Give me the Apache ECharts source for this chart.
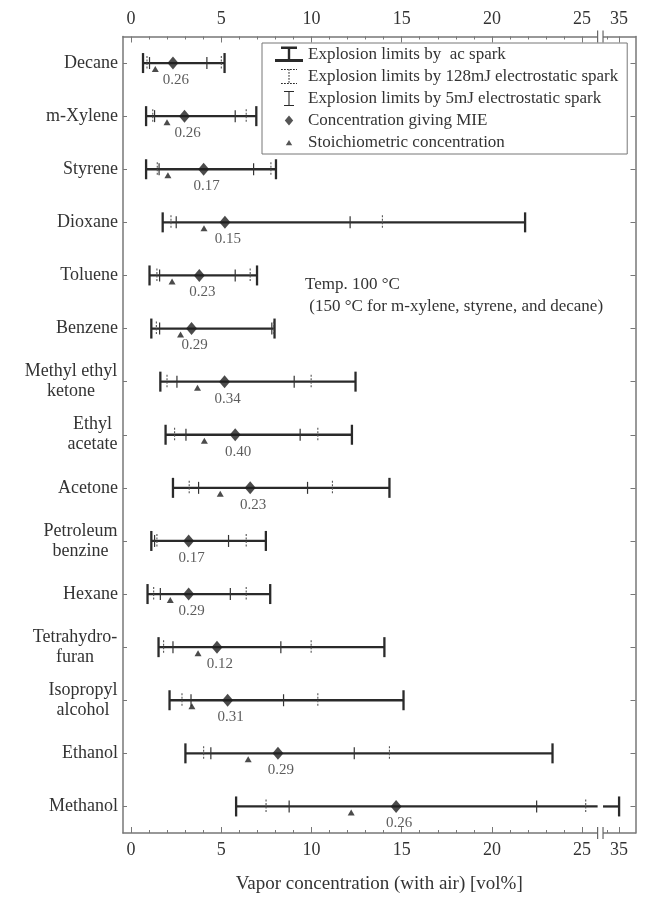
<!DOCTYPE html>
<html><head><meta charset="utf-8">
<script src="https://cdn.jsdelivr.net/npm/echarts@6/dist/echarts.min.js"></script>
<style>html,body{margin:0;padding:0;background:#fff}#c{width:649px;height:899px}</style>
</head><body><div id="c"></div>
<script>
// ---- data (vol%) ----
const substances = ['Decane','m-Xylene','Styrene','Dioxane','Toluene','Benzene','Methyl ethyl\nketone','Ethyl\nacetate','Acetone','Petroleum\nbenzine','Hexane','Tetrahydro-\nfuran','Isopropyl\nalcohol','Ethanol','Methanol'];
const acLower    = [0.66,0.83,0.83,1.75,1.02,1.12,1.62,1.91,2.32,1.12,0.91,1.52,2.13,3.01,5.82];
const acUpper    = [5.18,6.94,8.03,21.84,6.98,7.95,12.44,12.24,14.32,7.47,7.71,14.04,15.10,23.36,35.0];
const es128Lower = [0.88,1.20,1.45,2.21,1.43,1.40,1.99,2.41,3.22,1.43,1.25,1.80,2.82,4.02,7.48];
const es128Upper = [5.00,6.38,7.75,13.93,6.60,7.90,9.98,10.35,11.16,6.38,6.38,9.98,10.35,14.32,25.20];
const es5Lower   = [1.02,1.30,1.55,2.50,1.58,1.58,2.54,3.04,3.74,1.30,1.62,2.32,3.32,4.42,8.76];
const es5Upper   = [4.20,5.77,6.79,12.14,5.77,7.80,9.04,9.37,9.78,5.40,5.50,8.30,8.45,12.37,22.48];
const mieConc    = [2.32,2.96,4.02,5.20,3.78,3.35,5.18,5.77,6.60,3.19,3.19,4.76,5.35,8.14,14.69];
const mieValue   = [0.26,0.26,0.17,0.15,0.23,0.29,0.34,0.40,0.23,0.17,0.29,0.12,0.31,0.29,0.26];
const stoichConc = [1.34,1.99,2.04,4.04,2.27,2.74,3.68,4.06,4.94,null,2.17,3.71,3.37,6.49,12.20];
const majorTickValues = [0,5,10,15,20,25,35];
const minorTickValues = [1,2,3,4,6,7,8,9,11,12,13,14,16,17,18,19,21,22,23,24,34];
const legendNames = ['Explosion limits by  ac spark','Explosion limits by 128mJ electrostatic spark','Explosion limits by 5mJ electrostatic spark','Concentration giving MIE','Stoichiometric concentration'];
const noteLines = ['Temp. 100 \u00b0C',' (150 \u00b0C for m-xylene, styrene, and decane)'];
const xTitle = 'Vapor concentration (with air) [vol%]';

// ---- broken axis: real value -> display value ----
const BREAK_A = 25.86, BREAK_B = 26.16;
function disp(v){ return v <= 30 ? v : 27.05 + (v - 35) * 0.65; }
function real(d){ return d <= BREAK_B ? Math.round(d) : Math.round(35 + (d - 27.05) / 0.65); }

const FONT = '"Liberation Serif", "Times New Roman", serif';
const INK = '#333';
const FRAME = '#777';

// centered multi-line category labels
const meas = document.createElement('canvas').getContext('2d');
const catFont = 18;
meas.font = catFont + 'px "Liberation Serif"';
const rich = {};
substances.forEach((s, i) => {
  if (s.indexOf('\n') >= 0) {
    const w = Math.max(...s.split('\n').map(l => meas.measureText(l).width));
    rich['c' + i] = {width: Math.ceil(w) + 1, align: 'center', fontSize: catFont, fontFamily: FONT, color: INK, lineHeight: 20};
  }
});

const chart = echarts.init(document.getElementById('c'), null, {renderer: 'canvas'});

function vTick(x, y, h){ return {type:'line', shape:{x1:x, y1:y-h, x2:x, y2:y+h}}; }

const nullDot = 'M0,0L0.01,0L0,0.01Z M28,16L27.99,16L28,15.99Z ';
function dashedRect(x1, y1, x2, y2){
  let p = '';
  if (x2 - x1 > y2 - y1) { for (let x = x1; x < x2; x += 3) p += `M${x},${y1}H${Math.min(x+1.8,x2)}V${y2}H${x}Z `; }
  else { for (let y = y1; y < y2; y += 3) p += `M${x1},${y}V${Math.min(y+1.8,y2)}H${x2}V${y}Z `; }
  return p;
}
const icons = [
  'path://' + nullDot + 'M6,0H22V2.4H6Z M12.8,0H15.2V14H12.8Z M0,12.6H28V15.4H0Z',
  'path://' + nullDot + dashedRect(6,0.5,22,1.5) + dashedRect(13.5,0.5,14.5,15.5) + dashedRect(6,14.5,22,15.5),
  'path://' + nullDot + 'M9,0.5H19V1.6H9Z M13.45,0.5H14.55V15.5H13.45Z M9,14.4H19V15.5H9Z',
  'path://' + nullDot + 'M14,3L18.2,8L14,13L9.8,8Z',
  'path://' + nullDot + 'M14,5.5L17.2,10.8L10.8,10.8Z'
];

const baseX = {type:'value', gridIndex:0, min:-0.45, max:27.96, splitLine:{show:false}, axisPointer:{show:false}};
const option = {
  backgroundColor:'#fff',
  animation:false,
  grid:{left:123, right:13.5, top:36.5, bottom:62, containLabel:false},
  xAxis:[
    Object.assign({}, baseX, {position:'bottom',
      axisLine:{show:true, onZero:false, lineStyle:{color:FRAME, width:1.5}},
      axisTick:{show:true, inside:true, length:6, lineStyle:{color:FRAME, width:1}, customValues: majorTickValues.map(disp)},
      axisLabel:{show:true, margin:8, fontFamily:FONT, fontSize:18, color:INK, customValues: majorTickValues.map(disp), formatter:v => String(real(v))},
      name:xTitle, nameLocation:'middle', nameGap:42, nameTextStyle:{fontFamily:FONT, fontSize:19, color:INK}}),
    Object.assign({}, baseX, {position:'bottom', axisLine:{show:false, onZero:false},
      axisTick:{show:true, inside:true, length:3, lineStyle:{color:FRAME, width:1}, customValues: minorTickValues.map(disp)},
      axisLabel:{show:false}}),
    Object.assign({}, baseX, {position:'top',
      axisLine:{show:true, onZero:false, lineStyle:{color:FRAME, width:1.5}},
      axisTick:{show:true, inside:true, length:6, lineStyle:{color:FRAME, width:1}, customValues: majorTickValues.map(disp)},
      axisLabel:{show:true, margin:8, fontFamily:FONT, fontSize:18, color:INK, customValues: majorTickValues.map(disp), formatter:v => String(real(v))}}),
    Object.assign({}, baseX, {position:'top', axisLine:{show:false, onZero:false},
      axisTick:{show:true, inside:true, length:3, lineStyle:{color:FRAME, width:1}, customValues: minorTickValues.map(disp)},
      axisLabel:{show:false}})
  ],
  yAxis:[
    {type:'category', data:substances, inverse:true, position:'left', boundaryGap:true,
      axisLine:{show:true, onZero:false, lineStyle:{color:FRAME, width:1.5}},
      axisTick:{show:true, inside:true, alignWithLabel:true, length:4, lineStyle:{color:FRAME, width:1}},
      axisLabel:{margin:5, fontFamily:FONT, fontSize:catFont, color:INK, lineHeight:20, rich:rich,
        formatter:(v, i) => v.indexOf('\n') >= 0 ? v.split('\n').map(l => '{c' + i + '|' + l + '}').join('\n') : v},
      splitLine:{show:false}},
    {type:'category', data:substances, inverse:true, position:'right', boundaryGap:true,
      axisLine:{show:true, onZero:false, lineStyle:{color:FRAME, width:1.5}},
      axisTick:{show:true, inside:true, alignWithLabel:true, length:5, lineStyle:{color:FRAME, width:1}},
      axisLabel:{show:false}, splitLine:{show:false}}
  ],
  legend:{
    orient:'vertical', left:262, top:43, padding:[3,9,3,13], itemGap:5, itemWidth:28, itemHeight:16,
    borderColor:'#777', borderWidth:1, backgroundColor:'#fff', selectedMode:false,
    textStyle:{fontFamily:FONT, fontSize:17, color:INK, lineHeight:17},
    data: legendNames.map((n, i) => ({name:n, icon:icons[i], itemStyle:{color:'#2a2a2a', borderWidth:0}}))
  },
  graphic:[
    {type:'text', left:305, top:274, silent:true,
      style:{text:noteLines.join('\n'), font:'17px ' + FONT, fill:INK, lineHeight:22}}
  ],
  series:[
    {
      type:'custom', name:legendNames[0], xAxisIndex:0, yAxisIndex:0, itemStyle:{color:'#2a2a2a'},
      data: substances.map((s, i) => [i, disp(acLower[i]), disp(acUpper[i])]),
      encode:{x:[1,2], y:0},
      renderItem(params, api){
        const yi = api.value(0), lo = api.value(1), hi = api.value(2);
        const p1 = api.coord([lo, yi]), p2 = api.coord([hi, yi]);
        const st = {stroke:'#2a2a2a', lineWidth:2.3};
        const kids = [];
        if (hi > BREAK_B) {
          const a = api.coord([BREAK_A, yi]), b = api.coord([BREAK_B, yi]);
          kids.push({type:'line', shape:{x1:p1[0], y1:p1[1], x2:a[0], y2:a[1]}, style:st});
          kids.push({type:'line', shape:{x1:b[0], y1:b[1], x2:p2[0], y2:p2[1]}, style:st});
        } else {
          kids.push({type:'line', shape:{x1:p1[0], y1:p1[1], x2:p2[0], y2:p2[1]}, style:st});
        }
        kids.push(Object.assign(vTick(p1[0], p1[1], 10), {style:st}));
        kids.push(Object.assign(vTick(p2[0], p2[1], 10), {style:st}));
        return {type:'group', children:kids};
      }
    },
    {
      type:'custom', name:legendNames[1], xAxisIndex:0, yAxisIndex:0, itemStyle:{color:'#2a2a2a'},
      data: substances.map((s, i) => [i, disp(es128Lower[i]), disp(es128Upper[i])]),
      encode:{x:[1,2], y:0},
      renderItem(params, api){
        const yi = api.value(0);
        const p1 = api.coord([api.value(1), yi]), p2 = api.coord([api.value(2), yi]);
        const st = {stroke:'#555', lineWidth:1.1, lineDash:[2,1.5]};
        return {type:'group', children:[
          Object.assign(vTick(p1[0], p1[1], 7), {style:st}),
          Object.assign(vTick(p2[0], p2[1], 7), {style:st})]};
      }
    },
    {
      type:'custom', name:legendNames[2], xAxisIndex:0, yAxisIndex:0, itemStyle:{color:'#2a2a2a'},
      data: substances.map((s, i) => [i, disp(es5Lower[i]), disp(es5Upper[i])]),
      encode:{x:[1,2], y:0},
      renderItem(params, api){
        const yi = api.value(0);
        const p1 = api.coord([api.value(1), yi]), p2 = api.coord([api.value(2), yi]);
        const st = {stroke:'#333', lineWidth:1.2};
        return {type:'group', children:[
          Object.assign(vTick(p1[0], p1[1], 6), {style:st}),
          Object.assign(vTick(p2[0], p2[1], 6), {style:st})]};
      }
    },
    {
      type:'scatter', name:legendNames[3], xAxisIndex:0, yAxisIndex:0, z:5,
      symbol:'diamond', symbolSize:[11,13], itemStyle:{color:'#1e1e1e'},
      data: mieConc.map((v, i) => [disp(v), i]),
      label:{show:true, position:'bottom', distance:3, offset:[3,0], fontFamily:FONT, fontSize:15, color:INK,
        formatter:p => mieValue[p.dataIndex].toFixed(2)}
    },
    {
      type:'scatter', name:legendNames[4], xAxisIndex:0, yAxisIndex:0, z:4,
      symbol:'triangle', symbolSize:[7,6], symbolOffset:[0,6], itemStyle:{color:'#1e1e1e'},
      data: stoichConc.map((v, i) => v == null ? null : [disp(v), i]).filter(d => d)
    },
    {
      type:'custom', name:'break', xAxisIndex:0, yAxisIndex:0, silent:true, z:6,
      data:[[BREAK_A, BREAK_B]], encode:{x:[0,1]},
      renderItem(params, api){
        const cs = params.coordSys;
        const a = api.coord([BREAK_A, 0])[0], b = api.coord([BREAK_B, 0])[0];
        const kids = [];
        [cs.y, cs.y + cs.height].forEach(y => {
          kids.push({type:'rect', shape:{x:a, y:y-2, width:b-a, height:4}, style:{fill:'#fff'}});
          kids.push({type:'line', shape:{x1:a, y1:y-6, x2:a, y2:y+6}, style:{stroke:'#666', lineWidth:1.2}});
          kids.push({type:'line', shape:{x1:b, y1:y-6, x2:b, y2:y+6}, style:{stroke:'#666', lineWidth:1.2}});
        });
        return {type:'group', children:kids};
      }
    }
  ]
};
chart.setOption(option);
</script>
</body></html>
